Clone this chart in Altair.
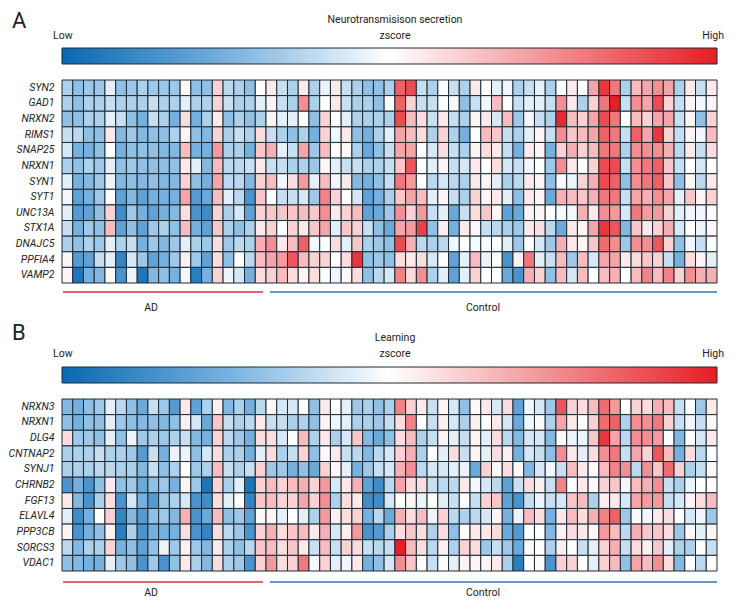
import altair as alt
import pandas as pd

FONT = "Roboto"
BLUE, MIDBLUE, WHITE, RED = "#0868b0", "#76b0de", "#ffffff", "#e61e25"

GENES_A = ["SYN2","GAD1","NRXN2","RIMS1","SNAP25","NRXN1","SYN1","SYT1","UNC13A","STX1A","DNAJC5","PPFIA4","VAMP2"]
ROWS_A = [
 [-3,-4,-3.5,-3.5,-1,-4,-3.5,-3,-3.5,-3.5,-3.5,0.3,-4,-4,2,-2.5,-3,-4,0,1,-2,-3,1,-3,-0.7,1,-2,-3,-4, -4,-3,7,8,-2,-3,0,-2,-3,1,0,-1,-0.5,-3,-2,-1,-3,0,1,0,4,9,6,-3,3,4,5,4,-3,1,-2,1],
 [-3,-4,-3,-3,-2,-3,-3,-3,-2,-3,-3,-1,-3,-3,2,-2,-3,-3,-1,0.5,-2,-3,5,-3,0,1,-2,-3,-3, -4,0,7,2,-2,-2,0,0.3,-4,-2,-0.5,3,0,-2,-1,-1,-2,5,1,-3,2,6,10,-2,5,4,8,2,-2,0.5,-0.5,0.5],
 [-4,-4,-3,-3,-1,-2,-4,-5,-2,-3,-5,1.5,-5,-3,1,-4,-3,-4,-3,0.5,-1,-1,0,-4,2,0,-1,-3,-3, -3,-3,8,3,1.5,-2,1,-2,-3,0.5,1,-1.5,3,-3.5,-0.5,-2,-3,9.5,3,2,4,8,6,0,3,2,4,4,-2,0.5,-4,2],
 [-2,-2.5,-4,-4,1,-4.5,-3.5,-4.5,-4,-4,-3,0.5,-4,-4.5,2,-3,-2,-3,1.5,-2,-3,-4,-3,-5,2,-0.5,1,-4,-5, -3,-1,4,3,1.5,-3,2,-3,-5,0,3,2.5,-2,-3,-1,0.5,-2,5,2.5,3,4,7,6,-2,7,4,9,2,-2,0.5,-0.5,3],
 [-1.5,-5,-5,-4,0,-5,-4,-4,-4,-4.5,-4.5,3,-5,-5,4.5,-3,-3,-5,2.5,3.5,-1,-2,4,-3.5,3,0,0.3,-3,-5.5, -4,-2,4,4,0,-1.5,1.5,-2,-3,0.5,1.5,1,-2,-5,1,0.5,-5,2,3.5,2,3,6,6,-3,5,5,5,3.5,-2.5,1,-2,1.5],
 [-3,-4,-3,-3.5,-1,-4,-3.5,-4,-4,-4,-4,1,-1,-4.5,3,-2.5,-2.5,-2,1,-2,-2,-3,-3,-3.5,0.5,-1,-2,-2,-3, -3,-2,2.5,7.5,0,-1,0.5,-2,-1.5,1,0,1.5,-1.5,-2,-0.5,0,-3.5,5,1,0,2,8,8,-2,5,6,7,2.5,-2,0,-1.5,0],
 [-1,-5,-4.5,-3.5,-0.7,-4.5,-4,-4.5,-4,-4.5,-4.5,2,-4,-5,4,-2.5,-2.5,-4.5,2,3,-0.5,1.5,4.5,-1,3,-0.5,1,-4.5,-5, -4,-2,6,4.5,0,-2.5,-1.5,-2.5,-3,1,0.5,-1,-3,-2.5,1,0.5,-4,-0.3,-0.7,2,3.5,8,7,-4,5,6,7,2.5,-4,0.5,-2.5,1],
 [-0.5,-6,-5,-3.5,0,-6,-4.5,-6,-5,-5,-5,4,-6.5,-5.5,3,-1,-2.5,-7,2.5,0,-2,-2,-1.5,-3.5,5.5,2,0,-1.5,-6, -5,-3,2.5,4,3,-1,0.5,-2,-3,2,0.5,1,-1,-4,1,0.5,-5.5,3.5,3,2.5,3.5,6,6,-2,4,3.5,5,4,-1,2.5,0.5,2],
 [-1,-6.5,-6,-4,2,-7.5,-3.5,-5,-6,-5,-4.5,1.5,-7,-7.5,2,-3,-1.5,-6,2,2.5,2.5,2.5,3,2.5,5,1,2,3,-6, -5.5,-3.5,5,2,4.5,-2,-1,-5.5,-2,1.5,2.5,0.5,-6,-5.5,0.5,0.5,0,-0.3,-0.5,3.5,1,5,4.5,-1.5,6,4.5,4.5,2,-1,-0.5,-0.5,0.2],
 [-2,-5,-3.5,-4,3,-6,-4,-6,-3.5,-3,-4,3,-5,-6,2.5,-3,-4,-3,1,2,0,2,1,2.5,4,-1,2.5,2,-2, -4,-5.5,4,4.5,8.5,-4,0.7,-5,1,0.3,-2,-2.5,-3,-3.5,1,1.5,-2.5,-5.5,1,0.5,4,9,7.5,-4.5,2.5,1,2,3.5,-1.5,0,-0.7,0.3],
 [-3,-4,-3,-3.5,-1,-3,-2,-5,-3.5,-4.5,-3.5,-1,-3,-3.5,1.5,-3.5,-2.5,-3,3.5,5,1,3,7,-0.5,0,1.5,-1,2.5,-3, -3.5,-4,8,3.5,-2.5,-3,-2.5,-0.5,0,-0.3,-0.3,0,-1,-3.5,0,-1.5,-3.5,3.5,1,0.5,2.5,6.5,5,-3.5,5,5,7.5,2,-4,-0.5,-2,0],
 [0.5,-6.5,-6,-2,-1,-8,-1.5,-3.5,-6,-5,-3.5,0.7,-3.5,-6,1.5,-4,0,-2.5,3,4,4.5,7.5,3,2,2,0,1.5,9,-4, -3.5,-4,1.5,1,1.5,-1.5,0,-6,-1,3,-0.7,0,-7,0.7,6,-1,-2,3,-3.5,3,-1.5,4,4,1,1.5,2.5,2,-2,-5,1.5,0.5,-1],
 [0.5,-9,-5,-4.5,0.3,-7,-0.7,-9,-4.5,-4,-5,-0.5,-8.5,-5,2,-0.7,-1.5,-5,1.5,2,3,1.5,0.5,1.5,0,-0.5,0.3,1.5,-4, -2.5,-1.5,5.5,1.5,5,-3,-1,-6,-1,2,0,0,-5.5,-7,3.5,2,-4,3,-1.5,3,0,3,3.5,0,3,5.5,3,5.5,2,5,3.5,3.5],
]

GENES_B = ["NRXN3","NRXN1","DLG4","CNTNAP2","SYNJ1","CHRNB2","FGF13","ELAVL4","PPP3CB","SORCS3","VDAC1"]
ROWS_B = [
 [-4.5,-5,-4,-3.5,-1,-2.5,-4,-5.5,-2,-3.5,-6.5,1,-6,-3,0.7,-4.5,-3,-5,-2.5,0.3,-1.5,-1.5,0,-4,1,0,-1,-3.5,-3, -4,-3,5.5,2,1,-2,0.5,-1.5,-4,0.3,1,-1.5,1.5,-6,-0.5,-1.5,-3.5,7.5,2,1.5,3,6.5,4.5,0,2,1.5,3.5,3,-2,0,-3.5,1],
 [-4,-5,-4,-4,-1,-3.5,-4,-4.5,-4,-4.5,-4,0.7,-1.5,-5.5,2.5,-2,-3,-2.5,1,-2,-2,-3,-3,-4,0.5,-0.5,-1,-3,-3, -3.5,-2,1.5,5.5,0,-2,0.7,-1.5,-3,0.7,0,1,-1.5,-5.5,-0.5,0.3,-3,4,1,0,2,6.5,7,-3,5,5,6,2,-2,-0.5,-2,0.3],
 [1.5,-3.5,-3.5,-4,-1,-4,-0.7,-3.5,-3,-3.5,-3,-2,-4.5,-5,2,-2.5,-3.5,-5,1.5,1.5,-1.5,0,3,-3,1,-3,-1.5,2.5,-4.5, -5.5,-4,1.5,3,-3,-2,0.5,-1,-2,0.5,-1,1.5,-2.5,-4.5,-1.5,-1.5,-4.5,0.3,-0.7,-0.7,2.5,9,4,-2.5,5,5,4.5,0,-4.5,0,-1.5,1],
 [-3,-3,-3,-2,-3,-3,-3.5,-6.5,-2,-5,-0.7,-0.7,-4,-1.5,1.5,-3,-3,-5,-1,1.5,-3,-2,2,-4,0.3,1,-2,-2.5,-4.5, -2.5,-1.5,2,3.5,-3,0,-1,1.5,-2,0.5,-1,1.5,0.7,-5,-1.5,-2,-4,5,1,-1,1.5,5,6,-2,4,2,7.5,3,-5,1.5,-2.5,0],
 [-3,-3,-3,-2.5,-2.5,-3,-3,-4.5,-2,-4,-3,0,-3.5,-3,3,-2,-3,-2,2,-3.5,-3.5,-5,-4,-5.5,2,0.3,-1,-5,-3.5, -2,-1.5,3.5,5,-2.5,-1.5,-1.5,-1,-0.7,-5.5,2,0.3,1.5,0.3,-4.5,-1.5,-0.5,-2,3,1,0.3,3,5.5,5,-2.5,5,2.5,6.5,2,-3,-2,0.3],
 [-7,-5,-7,-4,1,-4,-3.5,-5.5,-4,-3.5,-5,0.5,-3.5,-9,2,-3,-1,-9,2,3,2,3,3.5,2,4.5,-1.5,1,3.5,-6, -7.5,-2.5,4,1.5,1.5,-2,-2.5,-2.5,1,-0.5,-1.5,-2.5,-6,-2,1.5,0.7,-2,5.5,0,1,0.3,2,2.5,-0.5,3,3.5,5,-2,-3,-0.7,0,0],
 [1,-4.5,-7,-3,1.5,-7,-1.5,-5,-6.5,-3.5,-3,-1.5,-7,-7.5,1.5,-1,0,-8,2.5,3,2,2,4,2,5,-3,1.5,1,-7.5, -7.5,-1.5,0,0.5,-0.7,0,-1,-2,0,-2,2,2.5,-6,-7,-2,-0.7,-2,-1.5,2.5,3,-3,0.7,1,-1.5,4,4.5,4.5,-2,-1.5,0.5,1.5,3],
 [-1,-7.5,-5,0,2,-8,-4.5,-6.5,-4,-3.5,-4.5,3.5,-7,-5.5,3,-4,-3.5,-6,0.3,0.5,-1,0,-1,-3,4.5,0.7,1.5,2,-5, -2.5,-5.5,3.5,1.5,3,-0.7,2,-2.5,-3,-2.5,-1.5,0.5,-5,-0.7,3,1.5,-5,1,3,1.5,3.5,5.5,7,-3.5,-0.3,-0.5,1,1.5,0,-1.5,-0.5,-3.5],
 [0.5,-7,-5,-4,0.7,-8.5,-3,-7,-5,-5,-5,1.5,-7,-8,1.5,-2.5,-3.5,-7,2,3.5,1.5,2.5,3,1,3.5,-1.5,0.7,4.5,-7, -6.5,-3,1.5,2.5,1.5,-3,1.5,-4,0,1,1,1.5,-5.5,-6.5,0,0,-4.5,0.7,1.5,1,0.3,4.5,3,-2.5,3.5,2.5,2.5,1.5,-3.5,0.3,-1,0.5],
 [-2.5,-4.5,-3,-3,2,-5,-4,-6,-4,-0.7,-3.5,0.7,-3.5,-4.5,1,-3,-4,-2.5,2.5,3,1.5,2.5,1,-2,3,-2,2,1.5,-2, -2.5,-2,10,3,1.5,-2.5,0.7,-3,2,1.5,-3.5,-2,-3.5,-5.5,0.3,0,-3,0.7,0,-2,-1,2,3.5,-2,1.5,0.7,2.5,-1,-3,-3,0,-2],
 [-4,-4.5,-5,-5,-1,-3.5,-4,-7,-3.5,-7,-4,1,-3,-4.5,1.5,-3,-3.5,-7,2,4.5,1.5,2,6,-0.3,2,-1,-0.5,1,-5, -4,-1.5,5,2.5,0,-2,0,-1,0.5,0.5,0.5,1,-3,-8.5,0,0.2,-7,2,2,0,-1,2,3,-4,4,3,5,1.5,-4.5,0,-2.5,0],
]

CELL_H = 15.62
W = 655
GRID = "#1c2b36"


def panel(letter, title, genes, rows, letter_y, title_y, label_y, rule_y, text_y):
    H = round(CELL_H * len(genes))
    df = pd.DataFrame(
        [{"gene": g, "col": c, "z": v} for g, r in zip(genes, rows) for c, v in enumerate(r)]
    )
    one = pd.DataFrame({"k": [0]})
    heat = alt.Chart(df).mark_rect(stroke=GRID, strokeWidth=1).encode(
        x=alt.X("col:O", axis=None, scale=alt.Scale(paddingInner=0, paddingOuter=0)),
        y=alt.Y("gene:N", sort=genes, title=None,
                scale=alt.Scale(paddingInner=0, paddingOuter=0),
                axis=alt.Axis(ticks=False, domain=False, labelFont=FONT, labelFontStyle="italic",
                              labelFontSize=10.5, labelColor="#222", labelPadding=8)),
        color=alt.Color("z:Q", legend=None,
                        scale=alt.Scale(domain=[-10, -5, 0, 10], range=[BLUE, MIDBLUE, WHITE, RED],
                                        interpolate="rgb")),
    )
    grad = alt.Gradient(gradient="linear", x1=0, x2=1, y1=0, y2=0,
                        stops=[alt.GradientStop(offset=0, color=BLUE),
                               alt.GradientStop(offset=0.25, color=MIDBLUE),
                               alt.GradientStop(offset=0.5, color=WHITE),
                               alt.GradientStop(offset=1, color=RED)])
    bar = alt.Chart(one).mark_rect(color=grad, stroke=GRID, strokeWidth=1).encode(
        x=alt.value(0), x2=alt.value(W), y=alt.value(-32), y2=alt.value(-16))

    def txt(s, x, y, align="center", size=10.5):
        return alt.Chart(pd.DataFrame({"t": [s]})).mark_text(
            font=FONT, fontSize=size, align=align, baseline="middle", color="#222"
        ).encode(text="t:N", x=alt.value(x), y=alt.value(y))

    def rule(x1, x2, color):
        return alt.Chart(one).mark_rule(color=color, strokeWidth=1.6).encode(
            x=alt.value(x1), x2=alt.value(x2), y=alt.value(rule_y + H))

    return alt.layer(
        heat, bar,
        rule(1, 201, "#d8353c"), rule(208, 655, "#2a78b8"),
        txt(letter, -50, letter_y, "left", 22),
        txt(title, 333, title_y),
        txt("zscore", 333, label_y),
        txt("Low", -9, label_y, "left"),
        txt("High", 662, label_y, "right"),
        txt("AD", 89, H + text_y),
        txt("Control", 421, H + text_y),
    ).properties(width=W, height=H)


A = panel("A", "Neurotransmisison secretion", GENES_A, ROWS_A, -59, -60, -44.5, 9, 24.5)
B = panel("B", "Learning", GENES_B, ROWS_B, -66, -61, -45, 11, 22)

chart = alt.vconcat(A, B, spacing=116, bounds="flush").properties(
    padding={"left": 0, "top": 2, "right": 2, "bottom": 2}
).configure_view(stroke=None)

chart.save("out.html", embed_options={"renderer": "svg", "actions": False})
